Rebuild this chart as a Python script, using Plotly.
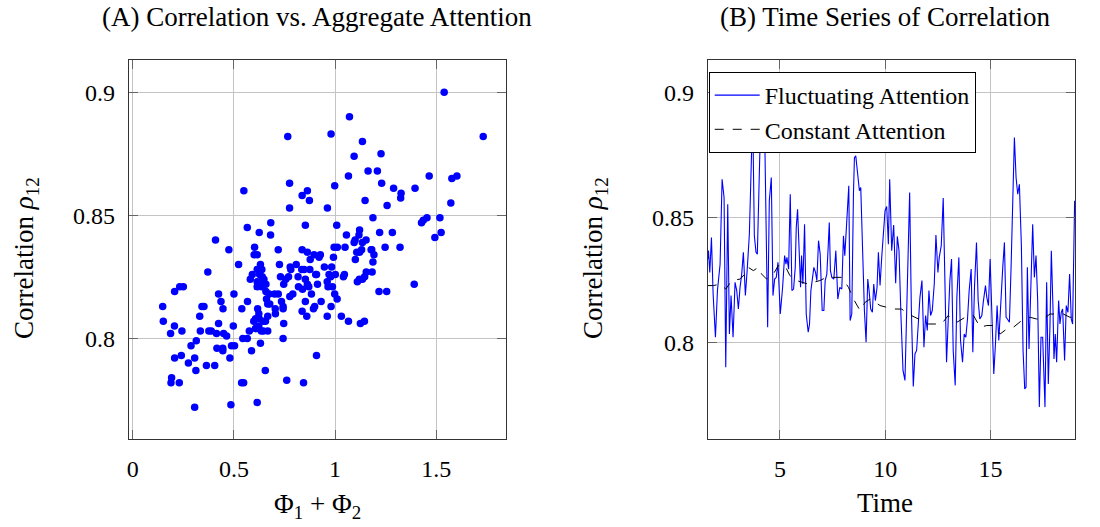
import plotly.graph_objects as go

# ---------------- Data: panel A (scatter) ----------------
phi_sum = [
    0.766, 0.775, 0.549, 0.863, 0.837, 0.873, 0.775, 0.682, 0.566, 0.625, 0.681, 0.853, 0.409, 0.602, 0.719, 0.837, 0.475,
    1.539, 1.071, 0.980, 1.732, 1.135, 1.094, 1.227, 1.066, 1.163, 1.209, 1.465, 1.577, 1.602, 0.998, 1.230, 1.289, 1.395,
    1.326, 1.324, 1.148, 1.257, 1.572, 0.962, 1.187, 1.008, 1.427, 1.436, 1.454, 1.518, 1.524, 1.493, 1.056, 1.121, 1.118,
    1.099, 1.094, 1.153, 1.135, 1.220, 1.283, 0.995, 1.011, 1.049, 1.181, 1.247, 1.321,
    0.863, 0.896, 0.600, 0.615, 0.523, 0.371, 0.631, 0.638, 0.615, 0.591, 0.581, 0.725, 0.778, 0.781, 0.808, 0.835, 0.847,
    0.875, 0.877, 0.904, 0.817, 0.853, 0.770, 0.756, 0.730, 0.746, 0.648, 0.615, 0.641, 0.658, 0.615, 0.819, 0.839, 0.863,
    0.870, 0.232, 0.250, 0.207, 0.424, 0.500, 0.658, 0.674, 0.701, 0.719, 0.791, 0.776, 0.883, 0.567, 0.661, 0.677, 0.667,
    0.735, 0.743, 0.743, 0.853, 0.893, 0.837, 0.860, 0.436, 0.352, 0.342, 0.446, 0.539, 0.617, 0.623, 0.704, 0.705, 0.148,
    0.331, 0.667, 0.151, 0.607, 0.598, 0.625, 0.645, 0.424, 0.497, 0.607, 0.623, 0.635, 0.746, 0.206, 0.187, 0.243, 0.334,
    0.376, 0.388, 0.414, 0.449, 0.464, 0.576, 0.609, 0.645, 0.667, 0.544, 0.566, 0.743, 0.314, 0.288, 0.416, 0.445, 0.445,
    0.488, 0.503, 0.631, 0.587, 0.240, 0.207, 0.306, 0.480, 0.275, 0.364, 0.405, 0.312, 0.655, 0.192, 0.189, 0.230, 0.761,
    0.844, 0.538, 0.548, 0.908, 0.306, 0.485, 0.615,
    1.107, 1.131, 1.121, 1.178, 1.192, 1.100, 1.187, 0.921, 0.927, 0.992, 0.947, 0.983, 0.908, 0.970, 0.978, 1.001, 1.046,
    1.041, 1.183, 1.154, 1.146, 1.135, 1.120, 1.110, 1.391, 0.913, 0.961, 0.965, 0.987, 0.998, 1.010, 1.217, 1.255, 0.931,
    0.899, 0.980, 0.961, 1.031, 1.066, 1.125, 1.145, 0.656, 0.627, 0.640, 0.637,
]
rho_scatter = [
    0.882, 0.863, 0.860, 0.860, 0.858, 0.856, 0.853, 0.847, 0.845, 0.843, 0.842, 0.846, 0.840, 0.837, 0.836, 0.836, 0.836,
    0.900, 0.890, 0.883, 0.882, 0.880, 0.874, 0.875, 0.866, 0.868, 0.868, 0.866, 0.865, 0.866, 0.862, 0.863, 0.861, 0.861,
    0.859, 0.857, 0.856, 0.854, 0.855, 0.853, 0.849, 0.846, 0.847, 0.848, 0.849, 0.849, 0.843, 0.841, 0.842, 0.844, 0.842,
    0.840, 0.839, 0.840, 0.839, 0.843, 0.843, 0.837, 0.837, 0.837, 0.836, 0.837, 0.837,
    0.835, 0.834, 0.834, 0.834, 0.830, 0.827, 0.830, 0.828, 0.828, 0.826, 0.824, 0.830, 0.829, 0.828, 0.830, 0.828, 0.828,
    0.828, 0.832, 0.826, 0.825, 0.824, 0.825, 0.824, 0.825, 0.822, 0.824, 0.823, 0.822, 0.822, 0.821, 0.821, 0.820, 0.822,
    0.821, 0.821, 0.821, 0.819, 0.818, 0.818, 0.819, 0.818, 0.818, 0.818, 0.818, 0.817, 0.818, 0.815, 0.816, 0.814, 0.814,
    0.815, 0.813, 0.812, 0.815, 0.812, 0.811, 0.809, 0.815, 0.813, 0.813, 0.812, 0.812, 0.812, 0.810, 0.812, 0.810, 0.813,
    0.809, 0.809, 0.807, 0.808, 0.807, 0.808, 0.807, 0.806, 0.805, 0.804, 0.805, 0.803, 0.806, 0.805, 0.802, 0.803, 0.803,
    0.803, 0.803, 0.802, 0.802, 0.801, 0.803, 0.804, 0.803, 0.803, 0.800, 0.800, 0.800, 0.799, 0.797, 0.796, 0.796, 0.795,
    0.797, 0.797, 0.798, 0.795, 0.793, 0.792, 0.792, 0.792, 0.790, 0.789, 0.789, 0.787, 0.787, 0.784, 0.782, 0.782, 0.783,
    0.782, 0.782, 0.782, 0.793, 0.772, 0.773, 0.774,
    0.835, 0.836, 0.835, 0.836, 0.834, 0.832, 0.831, 0.833, 0.834, 0.833, 0.829, 0.829, 0.826, 0.826, 0.825, 0.826, 0.826,
    0.825, 0.827, 0.827, 0.825, 0.824, 0.824, 0.823, 0.822, 0.822, 0.823, 0.821, 0.821, 0.818, 0.816, 0.819, 0.819, 0.815,
    0.813, 0.813, 0.809, 0.809, 0.807, 0.806, 0.807, 0.807, 0.826, 0.825, 0.821,
]

# ---------------- Data: panel B (time series) ----------------
t_fluct = [
    1.57, 1.605, 1.668, 1.747, 1.826, 1.937, 2.032, 2.158, 2.253, 2.347, 2.427, 2.521, 2.600, 2.679, 2.774, 2.869, 2.948,
    3.027, 3.106, 3.185, 3.264, 3.359, 3.453, 3.548, 3.643, 3.706, 3.785, 3.864, 3.927, 4.006, 4.085, 4.16, 4.275, 4.417,
    4.496, 4.591, 4.670, 4.749, 4.828, 4.907, 5.017, 5.128, 5.223, 5.286, 5.333, 5.412, 5.491, 5.570, 5.649, 5.728, 5.776,
    5.839, 5.902, 5.981, 6.028, 6.092, 6.171, 6.250, 6.344, 6.407, 6.471, 6.550, 6.613, 6.692, 6.755, 6.834, 6.913, 7.008,
    7.087, 7.150, 7.229, 7.292, 7.345, 7.40, 7.466, 7.561, 7.656, 7.750, 7.845, 7.940, 8.019, 8.082, 8.177, 8.272, 8.335,
    8.414, 8.493, 8.540, 8.603, 8.698, 8.777, 8.840, 8.919, 9.014, 9.093, 9.172, 9.235, 9.314, 9.393, 9.456, 9.535, 9.614,
    9.678, 9.757, 9.836, 9.915, 9.994, 10.072, 10.152, 10.215, 10.310, 10.404, 10.499, 10.578, 10.657, 10.752, 10.847,
    10.941, 11.020, 11.099, 11.163, 11.242, 11.336, 11.415, 11.494, 11.573, 11.652, 11.747, 11.842, 11.921, 12.000,
    12.079, 12.158, 12.237, 12.332, 12.411, 12.506, 12.569, 12.664, 12.758, 12.821, 12.916, 12.995, 13.074, 13.153,
    13.232, 13.327, 13.406, 13.501, 13.580, 13.675, 13.754, 13.832, 13.911, 13.990, 14.085, 14.164, 14.243, 14.338,
    14.417, 14.496, 14.591, 14.670, 14.765, 14.828, 14.907, 14.986, 15.065, 15.160, 15.239, 15.318, 15.397, 15.491,
    15.586, 15.665, 15.744, 15.807, 15.902, 15.981, 16.060, 16.139, 16.218, 16.297, 16.376, 16.471, 16.550, 16.629,
    16.692, 16.755, 16.834, 16.913, 17.008, 17.087, 17.166, 17.245, 17.324, 17.403, 17.482, 17.545, 17.592, 17.671,
    17.750, 17.829, 17.893, 17.971, 18.019, 18.082, 18.145, 18.240, 18.303, 18.367, 18.430, 18.524, 18.603, 18.682,
    18.762, 18.841, 18.904, 19.0,
]
rho_fluct = [
    0.8333, 0.8367, 0.8280, 0.8420, 0.8194, 0.8020, 0.8207, 0.8313, 0.8653, 0.8580, 0.7900, 0.8553, 0.8033, 0.8187,
    0.8020, 0.8240, 0.8207, 0.8133, 0.8220, 0.8273, 0.8360, 0.8187, 0.8300, 0.8433, 0.8727, 0.8930, 0.8427, 0.8360,
    0.8353, 0.8660, 0.8890, 0.8870, 0.8850, 0.8060, 0.8567, 0.8660, 0.8187, 0.8253, 0.8260, 0.8320, 0.8113, 0.8220,
    0.8347, 0.8313, 0.8340, 0.8293, 0.8593, 0.8207, 0.8213, 0.8300, 0.8460, 0.8533, 0.8367, 0.8220, 0.8347, 0.8233,
    0.8473, 0.8113, 0.8040, 0.8073, 0.8207, 0.8273, 0.8300, 0.8280, 0.8247, 0.8407, 0.8353, 0.8127, 0.8127, 0.8247,
    0.8273, 0.8380, 0.8480, 0.8287, 0.8260, 0.8253, 0.8367, 0.8173, 0.8220, 0.8213, 0.8427, 0.8347, 0.8500, 0.8627,
    0.8087, 0.8113, 0.8593, 0.8740, 0.8747, 0.8660, 0.8607, 0.8620, 0.8353, 0.8127, 0.8000, 0.8253, 0.8207, 0.8133,
    0.8120, 0.8233, 0.8167, 0.8220, 0.8360, 0.8227, 0.8340, 0.8460, 0.8527, 0.8544, 0.8393, 0.8653, 0.8367, 0.8470,
    0.8236, 0.8424, 0.8367, 0.8100, 0.7887, 0.7847, 0.8127, 0.8433, 0.8600, 0.8140, 0.7823, 0.7953, 0.7967, 0.8073,
    0.8180, 0.8247, 0.7980, 0.8107, 0.8047, 0.8207, 0.8107, 0.8127, 0.8233, 0.8430, 0.8280, 0.8340, 0.8387, 0.8578,
    0.8327, 0.7920, 0.8087, 0.8247, 0.8333, 0.7967, 0.7827, 0.8180, 0.8340, 0.8007, 0.7920, 0.8033, 0.8020, 0.8093,
    0.8207, 0.8293, 0.7960, 0.8220, 0.8400, 0.8167, 0.8093, 0.8107, 0.8167, 0.8227, 0.8180, 0.8147, 0.8333, 0.8100,
    0.7873, 0.7993, 0.8147, 0.8007, 0.8180, 0.8300, 0.8400, 0.8100, 0.8093, 0.8080, 0.8300, 0.8593, 0.8820, 0.8660,
    0.8593, 0.8633, 0.8387, 0.7967, 0.7813, 0.7820, 0.8300, 0.7973, 0.8193, 0.8473, 0.8260, 0.8347, 0.8167, 0.7740,
    0.8020, 0.8020, 0.7860, 0.7740, 0.8240, 0.7833, 0.8067, 0.8367, 0.8140, 0.7933, 0.8033, 0.7920, 0.8167, 0.8073,
    0.8120, 0.8133, 0.7927, 0.8147, 0.8120, 0.8273, 0.8093, 0.8073, 0.8567,
]
t_const = [
    1.57, 1.842, 2.158, 2.427, 2.711, 3.106, 3.343, 3.501, 3.738, 3.975, 4.133, 4.370, 4.686, 4.923, 5.238, 5.475, 5.791,
    6.107, 6.344, 6.581, 6.897, 7.213, 7.624, 7.940, 8.256, 8.493, 8.809, 9.046, 9.283, 9.520, 9.757, 10.073, 10.468,
    10.784, 11.099, 11.415, 11.731, 12.047, 12.363, 12.679, 12.995, 13.406, 13.801, 14.196, 14.512, 14.828, 15.144,
    15.460, 15.776, 16.092, 16.487, 16.882, 17.197, 17.513, 17.829, 18.145, 18.461, 18.777, 19.0,
]
rho_const = [
    0.8227, 0.8227, 0.8233, 0.8213, 0.8247, 0.8253, 0.8273, 0.8300, 0.8287, 0.8300, 0.8273, 0.8253, 0.8273, 0.8307,
    0.8307, 0.8267, 0.8247, 0.8240, 0.8233, 0.8240, 0.8247, 0.8260, 0.8260, 0.8260, 0.8220, 0.8173, 0.8127, 0.8160,
    0.8173, 0.8160, 0.8147, 0.8140, 0.8133, 0.8133, 0.8113, 0.8100, 0.8087, 0.8073, 0.8073, 0.8073, 0.8107, 0.8080,
    0.8100, 0.8107, 0.8060, 0.8067, 0.8067, 0.8033, 0.8053, 0.8060, 0.8087, 0.8100, 0.8093, 0.8093, 0.8113, 0.8113,
    0.8113, 0.8100, 0.8100,
]

x_ticks_a = [0, 0.5, 1, 1.5]
x_ticklabels_a = ["0", "0.5", "1", "1.5"]
x_ticks_b = [5, 10, 15]
x_ticklabels_b = ["5", "10", "15"]
y_ticks = [0.8, 0.85, 0.9]
y_ticklabels = ["0.8", "0.85", "0.9"]

# ---------------- Layout helpers ----------------
W, H = 1100, 527
FONT = "Liberation Serif"


def fx(p):
    return p / W


def fy(p):
    return 1 - p / H


fig = go.Figure()
fig.add_trace(go.Scatter(x=phi_sum, y=rho_scatter, mode="markers",
                         marker=dict(color="#0000ff", size=7.5, line=dict(width=0)),
                         xaxis="x", yaxis="y", showlegend=False))
fig.add_trace(go.Scatter(x=t_fluct, y=rho_fluct, mode="lines", name="Fluctuating Attention",
                         line=dict(color="#0000ff", width=1.1), xaxis="x2", yaxis="y2"))
fig.add_trace(go.Scatter(x=t_const, y=rho_const, mode="lines", name="Constant Attention",
                         line=dict(color="black", width=1, dash="dash"), xaxis="x2", yaxis="y2"))

axis_common = dict(
    showgrid=True, gridcolor="#c4c4c4", gridwidth=1,
    showline=True, linecolor="#333333", linewidth=1, mirror="allticks",
    ticks="inside", ticklen=9, tickcolor="#666666", tickwidth=1,
    zeroline=False, tickfont=dict(family=FONT, size=24, color="black"),
)

y_dom = [fy(439.3), fy(60)]
fig.update_layout(
    width=W, height=H,
    margin=dict(l=0, r=0, t=0, b=0),
    paper_bgcolor="white", plot_bgcolor="white",
    xaxis=dict(domain=[fx(127), fx(505)], range=[-0.0197, 1.845], anchor="y",
               tickvals=x_ticks_a, ticktext=x_ticklabels_a, ticklabelstandoff=8, **axis_common),
    yaxis=dict(domain=y_dom, range=[0.759, 0.9131], anchor="x",
               tickvals=y_ticks, ticktext=y_ticklabels, ticklabelstandoff=8, **axis_common),
    xaxis2=dict(domain=[fx(707), fx(1075)], range=[1.57, 19.02], anchor="y2",
                tickvals=x_ticks_b, ticktext=x_ticklabels_b, ticklabelstandoff=8, **axis_common),
    yaxis2=dict(domain=y_dom, range=[0.7611, 0.9131], anchor="x2",
                tickvals=y_ticks, ticktext=y_ticklabels, ticklabelstandoff=8, **axis_common),
    legend=dict(x=fx(708), y=fy(72), xanchor="left", yanchor="top",
                bgcolor="white", bordercolor="black", borderwidth=1, itemwidth=45,
                font=dict(family=FONT, size=24, color="black"), tracegroupgap=0),
    showlegend=True,
)

ann_font = dict(family=FONT, size=27, color="black")
annotations = [
    dict(text="(A) Correlation vs. Aggregate Attention", x=fx(316), y=fy(17)),
    dict(text="(B) Time Series of Correlation", x=fx(885), y=fy(17)),
    dict(text="Φ<sub>1</sub> + Φ<sub>2</sub>", x=fx(316), y=fy(506)),
    dict(text="Time", x=fx(885), y=fy(503)),
    dict(text="Correlation <i>ρ</i><sub>12</sub>", x=fx(24), y=fy(258), textangle=-90),
    dict(text="Correlation <i>ρ</i><sub>12</sub>", x=fx(594), y=fy(258), textangle=-90),
]
for a in annotations:
    fig.add_annotation(xref="paper", yref="paper", showarrow=False,
                       xanchor="center", yanchor="middle", font=ann_font, **a)

fig.write_html("out.html", config={"displayModeBar": False},
               post_script="document.body.style.margin='0px';")
